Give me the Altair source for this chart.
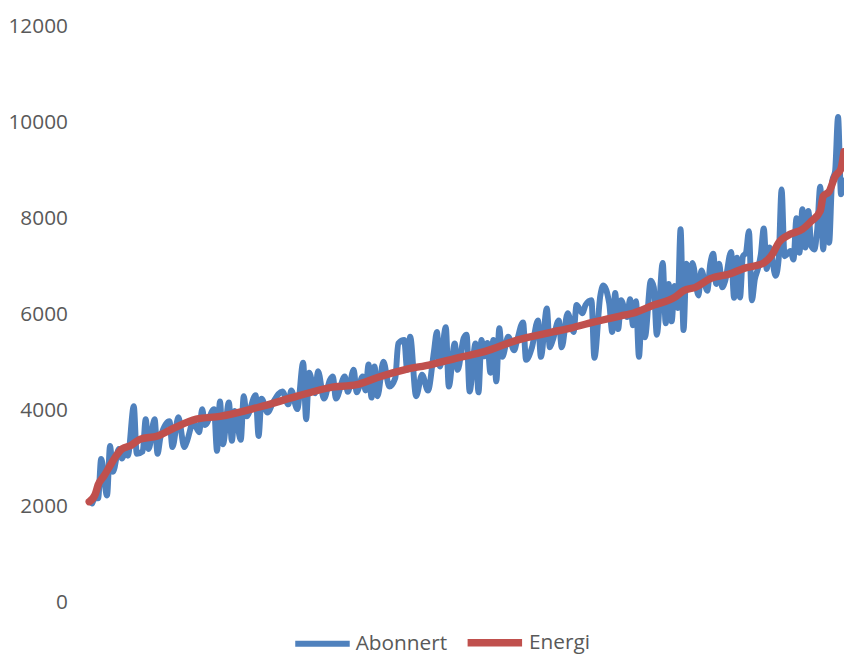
import altair as alt
import pandas as pd

# Abonnert (blue) – observation number and value
abonnert_obs = [1, 2, 3, 4, 6, 7, 8, 10, 11, 12, 13, 15, 16, 18, 19, 20, 22, 23, 24, 27,
                28, 30, 32, 33, 35, 37, 38, 39, 42, 43, 44, 45, 47, 48, 49, 51, 52, 53, 56, 57,
                58, 60, 62, 65, 67, 68, 70, 72, 73, 74, 76, 77, 79, 81, 82, 83, 86, 87, 89, 90,
                92, 93, 94, 95, 96, 97, 99, 101, 103, 104, 106, 107, 108, 110, 112, 114, 116, 117, 118, 120,
                121, 123, 124, 126, 127, 128, 130, 131, 132, 133, 134, 135, 136, 137, 138, 139, 141, 143, 144, 146,
                147, 149, 151, 152, 154, 155, 156, 158, 159, 161, 163, 164, 166, 167, 169, 170, 172, 173, 175, 176,
                177, 178, 179, 181, 182, 183, 184, 185, 186, 187, 189, 190, 191, 193, 194, 195, 196, 197, 198, 199,
                200, 201, 202, 203, 205, 206, 208, 209, 210, 211, 212, 213, 214, 216, 217, 218, 219, 220, 221, 222,
                223, 224, 225, 226, 227, 228, 229, 231, 232, 233, 234, 236, 237, 238, 239, 240, 241, 242, 243, 244,
                245, 246, 247, 248, 249, 250, 251, 252, 253, 254]
abonnert_val = [2065, 2170, 2170, 2990, 2230, 3260, 2725, 3200, 3000, 3100, 3060, 4090, 3100, 3150, 3820, 3200, 3820, 3100, 3450, 3780,
                3240, 3860, 3240, 3380, 3760, 3550, 4030, 3700, 4030, 3160, 4190, 3300, 4170, 3370, 3990, 3390, 4300, 3880, 4320, 3470,
                4250, 3960, 4190, 4400, 4130, 4420, 4030, 5000, 3820, 4790, 4360, 4820, 4250, 4640, 4710, 4250, 4710, 4390, 4850, 4380,
                4710, 4420, 4960, 4270, 4920, 4300, 5020, 4500, 4680, 5400, 5470, 4850, 5540, 4300, 4750, 4420, 5230, 5640, 4920, 5740,
                4500, 5400, 4850, 5510, 5580, 4400, 5400, 4380, 5470, 5130, 5410, 4790, 5470, 4610, 5720, 5120, 5540, 5260, 5470, 5840,
                5060, 5320, 5880, 5120, 6130, 5320, 5470, 5880, 5320, 6030, 5640, 6200, 6030, 6200, 6300, 5100, 6400, 6610, 6230, 5640,
                6450, 5700, 6300, 5950, 6320, 5780, 6280, 5120, 6080, 5530, 6710, 6570, 5580, 7080, 5820, 6640, 5860, 6600, 6140, 7780,
                5680, 7060, 6570, 7080, 6400, 6920, 6500, 7060, 7270, 6640, 7060, 6570, 6700, 7310, 6350, 7190, 6360, 7220, 7290, 7740,
                6300, 6740, 6950, 7250, 7800, 6950, 7400, 6810, 7150, 8610, 7220, 7330, 7150, 8010, 7290, 8200, 7400, 8160, 7430, 7360,
                7780, 8670, 7360, 8530, 7500, 8780, 8990, 10120, 8510, 8800]

# Energi (red)
energi_obs = [0, 2, 3, 5, 7, 9, 11, 14, 17, 23, 29, 36, 44, 57, 70, 81, 90, 97, 106, 115,
              124, 133, 144, 156, 162, 168, 180, 183, 190, 197, 200, 204, 209, 216, 220, 227, 230, 232, 236, 240,
              243, 246, 247, 249, 251, 253, 254]
energi_val = [2100, 2250, 2450, 2640, 2850, 3050, 3200, 3270, 3400, 3470, 3650, 3820, 3880, 4070, 4300, 4480, 4540, 4690, 4850, 4960,
              5100, 5230, 5470, 5640, 5720, 5820, 5990, 6030, 6200, 6360, 6500, 6570, 6750, 6860, 6960, 7080, 7270, 7500, 7680, 7780,
              7950, 8160, 8470, 8570, 8880, 9050, 9400]

y_ticks = [0, 2000, 4000, 6000, 8000, 10000, 12000]
series_names = ["Abonnert", "Energi"]
series_colors = ["#4F81BD", "#C0504D"]

df = pd.concat([
    pd.DataFrame({"obs": abonnert_obs, "value": abonnert_val, "serie": "Abonnert"}),
    pd.DataFrame({"obs": energi_obs, "value": energi_val, "serie": "Energi"}),
], ignore_index=True)

FONT = "Open Sans"

chart = alt.Chart(df).mark_line(
    strokeCap="round", strokeJoin="round", interpolate="monotone"
).encode(
    x=alt.X("obs:Q", scale=alt.Scale(domain=[0, 254], nice=False, zero=False), axis=None),
    y=alt.Y("value:Q", scale=alt.Scale(domain=[0, 12000], nice=False),
            axis=alt.Axis(values=y_ticks, title=None, grid=False, domain=False, ticks=False,
                          labelPadding=22, labelFontSize=21, labelFont=FONT,
                          labelColor="#595959", format="d")),
    color=alt.Color("serie:N", scale=alt.Scale(domain=series_names, range=series_colors),
                    legend=alt.Legend(title=None, orient="none", direction="horizontal",
                                      legendX=205, legendY=590,
                                      symbolType="stroke", symbolSize=3025, symbolStrokeWidth=6,
                                      labelFont=FONT, labelFontSize=21, labelColor="#595959",
                                      labelOffset=3, columnPadding=5)),
    strokeWidth=alt.StrokeWidth("serie:N", scale=alt.Scale(domain=series_names, range=[6, 7.5]),
                                legend=None),
    order=alt.Order("obs:Q"),
).properties(
    width=762, height=581,
    autosize=alt.AutoSizeParams(type="none"),
    padding={"left": 82, "top": 16, "right": 0, "bottom": 53},
).configure_view(stroke=None)

chart.save("out.html", embed_options={"renderer": "svg", "actions": False})
